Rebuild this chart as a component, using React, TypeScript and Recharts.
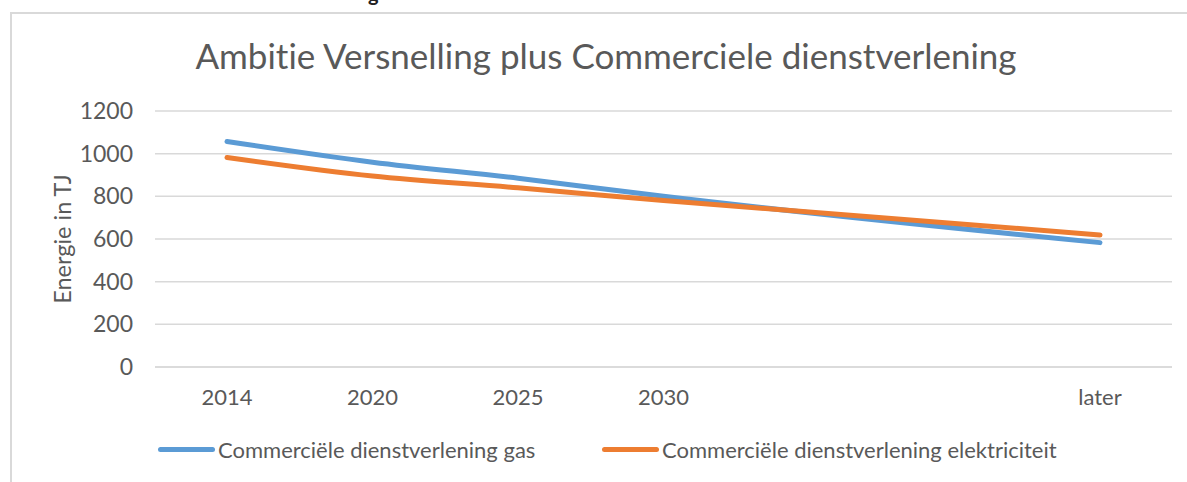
import { LineChart, Line, XAxis, YAxis, CartesianGrid } from 'recharts';

const CATEGORIES = ['2014', '2020', '2025', '2030', '', ' ', 'later'];
const GAS = [1057, 960, 885, 800, null, null, 583];
const ELEKTRICITEIT = [982, 895, 840, 780, null, null, 619];
const Y_TICKS = [0, 200, 400, 600, 800, 1000, 1200];

const data = CATEGORIES.map((c, i) => ({
    cat: c,
    gas: GAS[i],
    elek: ELEKTRICITEIT[i],
}));

const FONT = 'Lato, "Open Sans", sans-serif';
const TEXT = '#595959';

const LEGEND = [
    { label: 'Commerciële dienstverlening gas', color: '#5b9bd5', width: 444 },
    { label: 'Commerciële dienstverlening elektriciteit', color: '#ed7d31', width: 520 },
];

export default function App() {
    return (
        <div style={{ position: 'absolute', left: 0, top: 0, width: 1187, height: 482, overflow: 'hidden', background: '#fff', fontVariantLigatures: 'none' }}>
            {/* clipped heading above the chart frame */}
            <div style={{ position: 'absolute', left: 368, top: -19, fontFamily: FONT, fontWeight: 700, fontSize: 20, color: '#222' }}>g</div>
            {/* chart frame, runs off right and bottom */}
            <div style={{ position: 'absolute', left: 10, top: 12, width: 1200, height: 500, borderLeft: '2px solid #d9d9d9', borderTop: '2px solid #d9d9d9' }} />
            <div style={{ position: 'absolute', left: 0, top: 34, width: 1212, textAlign: 'center', fontFamily: FONT, fontSize: 35, color: TEXT }}>
                Ambitie Versnelling plus Commerciele dienstverlening
            </div>
            <div style={{ position: 'absolute', left: 63, top: 239, transform: 'translate(-50%, -50%) rotate(-90deg)', whiteSpace: 'nowrap', fontFamily: FONT, fontSize: 23.5, lineHeight: 1, color: TEXT }}>
                Energie in TJ
            </div>
            <div style={{ position: 'absolute', left: 0, top: 0 }}>
                <LineChart width={1187} height={482} data={data} margin={{ top: 111, right: 15, left: 95, bottom: 85 }}>
                    <CartesianGrid vertical={false} stroke="#d9d9d9" strokeWidth={1.5} />
                    <XAxis
                        dataKey="cat"
                        height={30}
                        padding={{ left: 72, right: 72 }}
                        tickLine={false}
                        tickSize={0}
                        tickMargin={22}
                        axisLine={{ stroke: '#d9d9d9', strokeWidth: 1.5 }}
                        tick={{ fill: TEXT, fontSize: 22, fontFamily: FONT }}
                        interval={0}
                    />
                    <YAxis
                        width={60}
                        domain={[0, 1200]}
                        ticks={Y_TICKS}
                        tickLine={false}
                        tickSize={0}
                        tickMargin={22}
                        axisLine={false}
                        tick={{ fill: TEXT, fontSize: 23, fontFamily: FONT }}
                    />
                    <Line type="monotone" dataKey="gas" stroke="#5b9bd5" strokeWidth={5} strokeLinecap="round" dot={false} connectNulls isAnimationActive={false} />
                    <Line type="monotone" dataKey="elek" stroke="#ed7d31" strokeWidth={5} strokeLinecap="round" dot={false} connectNulls isAnimationActive={false} />
                </LineChart>
            </div>
            <div style={{ position: 'absolute', left: 158, top: 436, display: 'flex', fontFamily: FONT, fontSize: 22, color: TEXT }}>
                {LEGEND.map((it) => (
                    <div key={it.label} style={{ display: 'flex', alignItems: 'center', width: it.width }}>
                        <span style={{ display: 'inline-block', width: 57, height: 5, borderRadius: 3, background: it.color, marginRight: 3 }} />
                        <span>{it.label}</span>
                    </div>
                ))}
            </div>
        </div>
    );
}
